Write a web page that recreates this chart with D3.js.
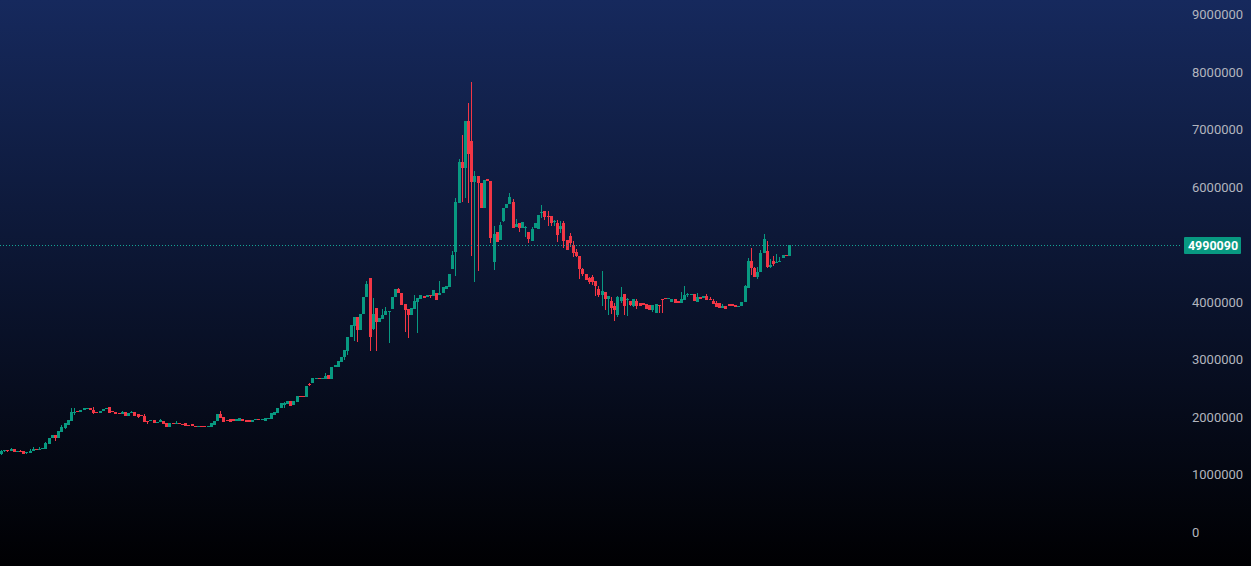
<!DOCTYPE html>
<html><head><meta charset="utf-8">
<script src="https://cdn.jsdelivr.net/npm/d3@7/dist/d3.min.js"></script>
<style>html,body{margin:0;padding:0;background:#000;overflow:hidden}</style>
</head><body><svg id="c" width="1251" height="566"></svg>
<script>
// values in millions: [open, high, low, close]
const UNIT = 1e6;
const candles = [
[1.357,1.426,1.339,1.409],[1.409,1.430,1.400,1.426],[1.426,1.430,1.400,1.409],[1.409,1.461,1.405,1.443],
[1.443,1.450,1.385,1.391],[1.391,1.415,1.385,1.409],[1.417,1.420,1.405,1.409],[1.409,1.415,1.350,1.357],
[1.374,1.395,1.365,1.391],[1.374,1.443,1.370,1.409],[1.409,1.478,1.405,1.443],[1.443,1.450,1.430,1.435],
[1.435,1.478,1.430,1.452],[1.443,1.465,1.440,1.461],[1.443,1.565,1.440,1.548],[1.530,1.640,1.525,1.635],
[1.635,1.690,1.630,1.687],[1.687,1.690,1.583,1.635],[1.635,1.760,1.630,1.757],[1.739,1.861,1.735,1.826],
[1.809,1.900,1.800,1.896],[1.861,1.950,1.855,1.948],[1.930,2.157,1.925,2.087],[2.070,2.157,2.035,2.087],
[2.104,2.110,2.080,2.087],[2.087,2.125,2.080,2.122],[2.122,2.160,2.115,2.157],[2.157,2.165,2.150,2.160],
[2.160,2.165,2.115,2.122],[2.122,2.174,2.052,2.070],[2.087,2.090,2.065,2.070],[2.070,2.110,2.065,2.104],
[2.104,2.140,2.100,2.139],[2.139,2.160,2.135,2.157],[2.174,2.180,2.065,2.070],[2.104,2.110,2.080,2.087],
[2.087,2.090,2.045,2.052],[2.070,2.075,2.055,2.061],[2.052,2.104,2.045,2.087],[2.087,2.095,2.010,2.017],
[2.017,2.075,2.010,2.070],[2.070,2.104,2.065,2.087],[2.087,2.090,2.010,2.017],[2.052,2.060,1.990,2.000],
[2.035,2.040,2.020,2.026],[2.017,2.052,1.910,1.913],[1.930,1.935,1.878,1.913],[1.930,1.950,1.925,1.948],
[1.948,1.955,1.890,1.896],[1.896,1.915,1.890,1.913],[1.913,1.965,1.905,1.948],[1.930,1.935,1.875,1.878],
[1.896,1.900,1.820,1.826],[1.826,1.900,1.820,1.896],[1.896,1.900,1.880,1.887],[1.887,1.930,1.880,1.896],
[1.896,1.900,1.870,1.878],[1.878,1.885,1.855,1.861],[1.896,1.900,1.840,1.843],[1.861,1.865,1.845,1.852],
[1.878,1.885,1.840,1.843],[1.843,1.850,1.830,1.835],[1.826,1.850,1.820,1.843],[1.843,1.848,1.830,1.835],
[1.843,1.848,1.830,1.835],[1.835,1.850,1.830,1.843],[1.826,1.900,1.820,1.896],[1.861,1.935,1.855,1.930],
[1.930,2.055,1.925,2.052],[2.052,2.104,1.980,1.983],[2.000,2.005,1.910,1.913],[1.948,1.955,1.935,1.940],
[1.965,1.970,1.910,1.913],[1.965,1.970,1.925,1.930],[1.930,1.970,1.925,1.965],[1.930,1.990,1.925,1.983],
[1.965,1.970,1.925,1.930],[1.948,1.955,1.910,1.913],[1.948,1.955,1.910,1.913],[1.913,1.955,1.905,1.948],
[1.948,1.970,1.940,1.965],[1.965,1.970,1.940,1.948],[1.948,1.965,1.940,1.957],[1.930,1.990,1.925,1.983],
[1.974,1.990,1.970,1.983],[1.965,2.075,1.960,2.070],[2.035,2.090,2.030,2.087],[2.070,2.160,2.065,2.157],
[2.157,2.245,2.150,2.243],[2.209,2.261,2.157,2.243],[2.226,2.280,2.220,2.278],[2.278,2.285,2.185,2.191],
[2.209,2.285,2.200,2.278],[2.261,2.370,2.255,2.365],[2.365,2.370,2.350,2.357],[2.365,2.370,2.350,2.357],
[2.348,2.545,2.340,2.539],[2.574,2.591,2.539,2.557],[2.591,2.680,2.585,2.678],[2.661,2.685,2.655,2.678],
[2.678,2.685,2.655,2.661],[2.661,2.675,2.655,2.670],[2.661,2.765,2.655,2.713],[2.730,2.735,2.655,2.661],
[2.661,2.875,2.655,2.870],[2.870,2.910,2.865,2.904],[2.870,2.980,2.865,2.974],[2.957,3.050,2.950,3.043],
[3.043,3.170,2.991,3.165],[3.148,3.400,3.078,3.391],[3.391,3.605,3.385,3.600],[3.583,3.745,3.322,3.739],
[3.739,3.745,3.304,3.513],[3.513,3.795,3.505,3.791],[3.791,4.090,3.785,4.087],[4.087,4.365,4.080,4.313],
[4.417,4.420,3.148,3.391],[3.530,4.070,3.520,3.791],[3.896,3.900,3.148,3.652],[3.652,3.725,3.645,3.722],
[3.704,3.878,3.700,3.774],[3.774,3.913,3.770,3.843],[3.826,3.850,3.287,3.843],[3.878,4.090,3.870,4.087],
[4.087,4.230,4.080,4.226],[4.226,4.235,4.150,4.157],[4.157,4.165,3.940,3.948],[3.965,3.970,3.478,3.861],
[3.878,3.885,3.374,3.774],[3.774,3.900,3.770,3.896],[3.878,4.122,3.870,4.017],[4.000,4.075,3.461,4.070],
[4.052,4.125,4.045,4.122],[4.104,4.110,4.065,4.070],[4.087,4.125,4.080,4.122],[4.122,4.130,4.070,4.104],
[4.104,4.210,4.100,4.209],[4.157,4.165,4.030,4.035],[4.122,4.365,4.115,4.157],[4.157,4.265,4.150,4.261],
[4.226,4.280,4.220,4.278],[4.261,4.490,4.255,4.487],[4.574,4.887,4.570,4.817],[4.870,5.809,4.452,5.739],
[5.722,6.487,5.715,6.435],[6.435,6.904,5.739,6.330],[6.330,7.150,5.809,7.148],[7.148,7.461,5.722,6.574],
[6.800,7.826,4.800,6.087],[6.087,6.278,4.348,6.191],[6.191,6.200,4.539,6.070],[6.070,6.075,5.630,5.635],
[5.635,6.125,5.630,6.122],[6.139,6.145,6.100,6.104],[6.104,6.110,5.026,5.113],[4.696,5.322,4.557,5.183],
[5.217,5.225,5.040,5.043],[5.078,5.391,5.070,5.339],[5.409,5.640,5.400,5.635],[5.635,5.710,5.630,5.704],
[5.704,5.896,5.700,5.826],[5.739,5.791,5.280,5.287],[5.304,5.443,5.300,5.357],[5.374,5.380,5.217,5.287],
[5.287,5.395,5.280,5.391],[5.287,5.322,5.130,5.304],[5.217,5.225,5.026,5.096],[5.061,5.304,5.055,5.270],
[5.287,5.380,5.280,5.374],[5.270,5.515,5.265,5.513],[5.548,5.687,5.461,5.565],[5.583,5.590,5.426,5.478],
[5.496,5.583,5.322,5.478],[5.496,5.500,5.322,5.374],[5.391,5.426,5.322,5.409],[5.374,5.426,5.043,5.165],
[5.270,5.409,5.200,5.322],[5.374,5.409,4.939,5.061],[5.078,5.085,4.900,4.904],[5.148,5.200,4.957,5.026],
[4.991,5.061,4.783,4.852],[4.870,4.922,4.783,4.800],[4.800,4.805,4.400,4.574],[4.574,4.591,4.452,4.487],
[4.487,4.490,4.380,4.383],[4.417,4.435,4.313,4.348],[4.435,4.470,4.296,4.348],[4.365,4.370,4.104,4.278],
[4.226,4.278,4.087,4.122],[4.122,4.539,3.930,4.191],[4.174,4.180,3.861,4.052],[4.052,4.110,3.774,4.104],
[4.017,4.087,3.791,3.896],[3.930,3.983,3.670,3.861],[3.774,4.104,3.739,4.087],[4.017,4.261,3.983,4.087],
[4.139,4.145,3.774,3.930],[4.035,4.070,3.757,4.052],[4.017,4.025,3.930,3.948],[3.930,4.060,3.913,4.052],
[4.017,4.052,3.878,3.930],[3.983,3.990,3.925,3.930],[3.983,3.990,3.940,3.948],[3.965,3.970,3.870,3.878],
[3.948,3.955,3.855,3.861],[3.861,3.955,3.826,3.948],[3.809,3.970,3.800,3.965],[3.948,3.955,3.809,3.930],
[4.052,4.060,3.809,4.035],[4.070,4.075,4.045,4.052],[4.052,4.065,4.045,4.061],[4.000,4.060,3.995,4.052],
[4.052,4.060,3.980,3.983],[4.017,4.025,3.980,3.983],[3.983,4.174,3.975,4.052],[4.035,4.278,4.030,4.122],
[4.122,4.157,4.087,4.139],[4.130,4.145,4.125,4.139],[4.139,4.145,4.010,4.017],[4.000,4.157,3.995,4.087],
[4.087,4.095,4.045,4.052],[4.070,4.110,4.065,4.104],[4.104,4.139,4.030,4.035],[4.052,4.087,4.030,4.035],
[4.017,4.052,3.960,3.965],[3.983,4.017,3.910,3.913],[3.983,3.990,3.890,3.896],[3.896,3.965,3.890,3.930],
[3.930,3.935,3.870,3.878],[3.965,3.970,3.925,3.930],[3.965,3.970,3.925,3.930],[3.948,3.955,3.910,3.913],
[3.922,3.935,3.915,3.930],[3.930,4.005,3.925,4.000],[4.000,4.296,3.995,4.278],[4.243,4.765,4.235,4.713],
[4.713,4.939,4.470,4.591],[4.591,4.609,4.430,4.435],[4.435,4.609,4.400,4.522],[4.522,4.904,4.515,4.852],
[4.852,5.183,4.845,5.096],[4.887,5.061,4.600,4.609],[4.609,4.748,4.591,4.643],[4.713,4.800,4.626,4.661],
[4.687,4.835,4.680,4.696],[4.696,4.783,4.690,4.713],[4.765,4.820,4.760,4.817],[4.817,4.825,4.795,4.800],
[4.800,4.99009,4.795,4.99009]
];
const yTickValues = [0,1000000,2000000,3000000,4000000,5000000,6000000,7000000,8000000,9000000];
const lastPrice = 4990090;

const W = 1251, H = 566;
const UP = "#089981", DOWN = "#f23645";
const svg = d3.select("#c");

const defs = svg.append("defs");
const grad = defs.append("linearGradient").attr("id","bg").attr("x1",0).attr("y1",0).attr("x2",0).attr("y2",1);
grad.append("stop").attr("offset","0%").attr("stop-color","#16295d");
grad.append("stop").attr("offset","100%").attr("stop-color","#000002");
svg.append("rect").attr("width",W).attr("height",H).attr("fill","url(#bg)");

const data = candles.map((c,i)=>({i, o:c[0]*UNIT, h:c[1]*UNIT, l:c[2]*UNIT, c:c[3]*UNIT}));
const x = d3.scaleLinear().domain([0, data.length-1]).range([1.5, 789.5]);
const y = d3.scaleLinear().domain([0, 9000000]).range([532, 14.5]);

const g = svg.append("g").attr("shape-rendering","crispEdges");
const bx = d => Math.round(x(d.i) - 1.5);
g.selectAll("rect.w").data(data).join("rect").attr("class","w")
  .attr("x", d => bx(d) + 1).attr("width", 1)
  .attr("y", d => Math.round(y(d.h)))
  .attr("height", d => Math.max(1, Math.round(y(d.l)) - Math.round(y(d.h))))
  .attr("fill", d => d.c >= d.o ? UP : DOWN);
g.selectAll("rect.b").data(data).join("rect").attr("class","b")
  .attr("x", bx).attr("width", 3)
  .attr("y", d => Math.round(y(Math.max(d.o,d.c))))
  .attr("height", d => Math.max(1, Math.round(y(Math.min(d.o,d.c))) - Math.round(y(Math.max(d.o,d.c)))))
  .attr("fill", d => d.c >= d.o ? UP : DOWN);

// last price dotted line
const py = Math.round(y(lastPrice)) + 0.5;
svg.append("line").attr("x1",0).attr("x2",1181).attr("y1",py).attr("y2",py)
  .attr("stroke", "#14a594").attr("stroke-width",1).attr("stroke-dasharray","1,2");

// y axis
const ticks = yTickValues.filter(v => Math.abs(y(v) - y(lastPrice)) > 14);
const ax = svg.append("g").attr("transform","translate(1192,0)")
  .call(d3.axisRight(y).tickValues(ticks).tickSize(0).tickPadding(0).tickFormat(d3.format("d")));
ax.select(".domain").remove();
ax.selectAll("text").attr("fill","#b2b5be").attr("font-family","Roboto, 'Noto Sans', sans-serif").attr("font-size",13);

// price label
svg.append("rect").attr("x",1184).attr("y",py-8.5).attr("width",57).attr("height",17).attr("rx",1).attr("fill",UP);
svg.append("text").attr("x",1213).attr("y",py).attr("dy","0.36em").attr("text-anchor","middle")
  .attr("fill","#ffffff").attr("font-family","Roboto, 'Noto Sans', sans-serif").attr("font-size",12.5).attr("font-weight","bold")
  .text(d3.format("d")(lastPrice));
</script></body></html>
